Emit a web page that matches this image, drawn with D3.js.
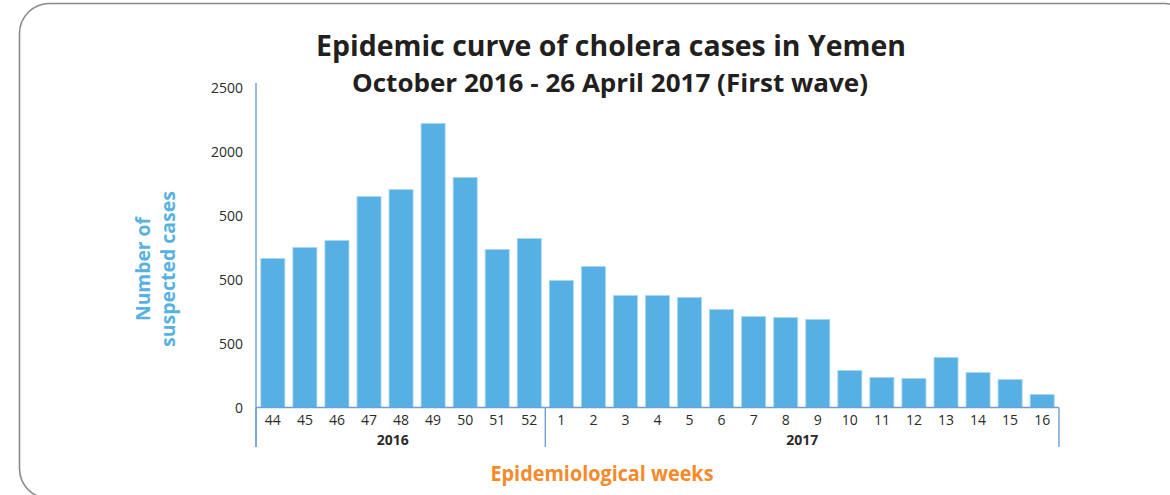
<!DOCTYPE html>
<html>
<head>
<meta charset="utf-8">
<script src="https://cdn.jsdelivr.net/npm/d3@7"></script>
<style>
  html, body { margin: 0; padding: 0; background: #fff; }
  svg { display: block; font-family: "Open Sans", "Noto Sans", sans-serif; }
</style>
</head>
<body>
<svg id="chart" width="1170" height="495"></svg>
<script>
// ---- data ----
const weeks = ["44","45","46","47","48","49","50","51","52","1","2","3","4","5","6","7","8","9","10","11","12","13","14","15","16"];
const years = ["2016","2016","2016","2016","2016","2016","2016","2016","2016",
               "2017","2017","2017","2017","2017","2017","2017","2017","2017","2017","2017","2017","2017","2017","2017","2017"];
const cases = [1164, 1250, 1305, 1648, 1703, 2219, 1797, 1234, 1320,
               992, 1102, 875, 875, 859, 766, 711, 703, 688, 289, 234, 227, 391, 273, 219, 102];
const yTickValues = [0, 500, 1000, 1500, 2000, 2500];
const yTickLabels = ["0", "500", "500", "500", "2000", "2500"];
const yearLabels = ["2016", "2017"];

const titleText = "Epidemic curve of cholera cases in Yemen";
const subtitleText = "October 2016 - 26 April 2017 (First wave)";
const yTitleLines = ["Number of", "suspected cases"];
const xTitleText = "Epidemiological weeks";

// ---- layout ----
const svg = d3.select("#chart");
const left = 256, right = 1059, baseY = 407.5;
const barColor = "#57b0e3";
const axisColor = "#6c9ed8";
const fontFam = '"Open Sans", "Noto Sans", sans-serif';

// frame
svg.append("rect")
  .attr("x", 19.5).attr("y", 3.5)
  .attr("width", 1175).attr("height", 495)
  .attr("rx", 30).attr("ry", 30)
  .attr("fill", "none").attr("stroke", "#8a8a8a").attr("stroke-width", 1.6);

const x = d3.scaleBand().domain(weeks.map((w, i) => i))
  .range([left, right]).paddingInner(0.25).paddingOuter(0.15);
const y = d3.scaleLinear().domain([0, 2500]).range([baseY, baseY - 320]);

// bars
svg.append("g").selectAll("rect").data(cases).join("rect")
  .attr("x", (d, i) => x(i))
  .attr("y", d => y(d))
  .attr("width", x.bandwidth())
  .attr("height", d => baseY - y(d))
  .attr("fill", barColor)
  .attr("stroke", "#a9d7f2").attr("stroke-width", 0.8);

// y axis
const yAxis = d3.axisLeft(y).tickValues(yTickValues)
  .tickFormat((d, i) => yTickLabels[i]).tickSize(0).tickPadding(13);
const gy = svg.append("g").attr("transform", `translate(${left},0)`).call(yAxis)
  .attr("font-family", fontFam).attr("font-size", 14);
gy.select(".domain").remove();
gy.selectAll("text").attr("fill", "#2b2b2b").attr("dy", "0.35em");
svg.append("line").attr("x1", left).attr("x2", left).attr("y1", 83).attr("y2", 447)
  .attr("stroke", axisColor).attr("stroke-width", 1.4);

// x axis
const xAxis = d3.axisBottom(x).tickFormat(i => weeks[i]).tickSize(0).tickPadding(8);
const gx = svg.append("g").attr("transform", `translate(0,${baseY})`).call(xAxis)
  .attr("font-family", fontFam).attr("font-size", 14);
gx.select(".domain").remove();
gx.selectAll("text").attr("fill", "#2b2b2b");
svg.append("line").attr("x1", left).attr("x2", right).attr("y1", baseY).attr("y2", baseY)
  .attr("stroke", axisColor).attr("stroke-width", 1.4);

// year separators and labels
const yearIdx = yearLabels.map(yr => {
  const idx = years.map((v, i) => v === yr ? i : -1).filter(i => i >= 0);
  return { yr, first: idx[0], last: idx[idx.length - 1] };
});
const step = x.step();
const bounds = [left];
yearIdx.forEach(g => bounds.push(g.last === weeks.length - 1 ? right : x(g.last) + x.bandwidth() + (step - x.bandwidth()) / 2));
bounds.forEach(b => {
  svg.append("line").attr("x1", b).attr("x2", b).attr("y1", baseY).attr("y2", 447)
    .attr("stroke", axisColor).attr("stroke-width", 1.4);
});
yearIdx.forEach((g, k) => {
  const cx = k === 0 ? (bounds[0] + bounds[1]) / 2 - 8 : (bounds[k] + bounds[k + 1]) / 2;
  svg.append("text").attr("x", cx).attr("y", 445)
    .attr("text-anchor", "middle").attr("font-size", 14).attr("font-weight", 700)
    .attr("fill", "#2b2b2b").text(g.yr);
});

// titles
svg.append("text").attr("x", 611).attr("y", 56).attr("text-anchor", "middle")
  .attr("font-size", 29).attr("font-weight", 700).attr("fill", "#231f20")
  .attr("textLength", 590).attr("lengthAdjust", "spacingAndGlyphs").text(titleText);
svg.append("text").attr("x", 610).attr("y", 92).attr("text-anchor", "middle")
  .attr("font-size", 25).attr("font-weight", 700).attr("fill", "#231f20")
  .attr("textLength", 516).attr("lengthAdjust", "spacingAndGlyphs").text(subtitleText);

// y title
const yt = svg.append("text").attr("transform", "translate(0,269) rotate(-90)")
  .attr("text-anchor", "middle").attr("font-size", 20).attr("font-weight", 700).attr("fill", "#58b1e3");
yt.append("tspan").attr("x", 0).attr("y", 150).attr("textLength", 104).attr("lengthAdjust", "spacingAndGlyphs").text(yTitleLines[0]);
yt.append("tspan").attr("x", 0).attr("y", 175).attr("textLength", 156).attr("lengthAdjust", "spacingAndGlyphs").text(yTitleLines[1]);

// x title
svg.append("text").attr("x", 602).attr("y", 481).attr("text-anchor", "middle")
  .attr("font-size", 21).attr("font-weight", 700).attr("fill", "#f58a2c")
  .attr("textLength", 223).attr("lengthAdjust", "spacingAndGlyphs").text(xTitleText);
</script>
</body>
</html>
